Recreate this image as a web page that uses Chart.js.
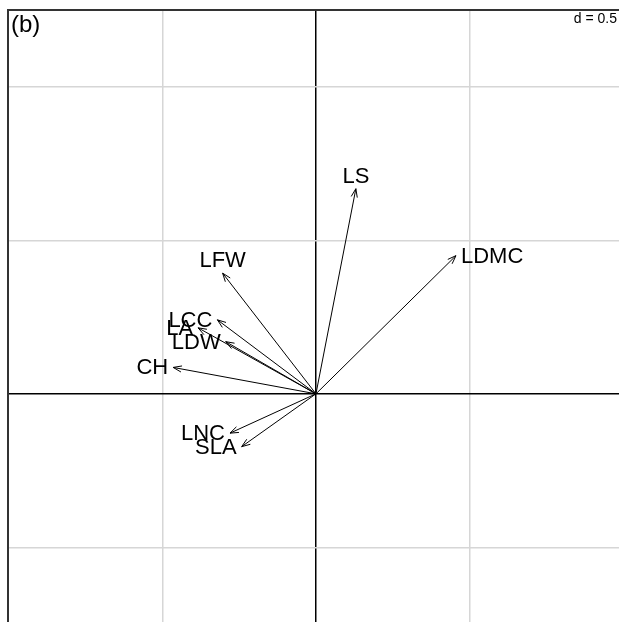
<!DOCTYPE html>
<html>
<head>
<meta charset="utf-8">
<script src="https://cdn.jsdelivr.net/npm/chart.js@4"></script>
<style>
  html, body { margin: 0; padding: 0; background: #fff; }
  #wrap { width: 619px; height: 622px; }
</style>
</head>
<body>
<div id="wrap"><canvas id="canvas-b" width="619" height="622"></canvas></div>
<script>
// variable loadings (arrow tips)
var traits = ['LS', 'LDMC', 'LFW', 'LCC', 'LA', 'LDW', 'CH', 'LNC', 'SLA'];
var axis1 = [0.130, 0.456, -0.304, -0.321, -0.384, -0.294, -0.465, -0.280, -0.242];
var axis2 = [0.668, 0.450, 0.393, 0.241, 0.215, 0.170, 0.086, -0.128, -0.172];

// grid lines (d = 0.5)
var xGrid = [-0.5, 0, 0.5];
var yGrid = [-0.5, 0, 0.5, 1];

var panelTitle = '(b)';
var gridLabel = 'd = 0.5';

var FONT = "'Liberation Sans', Arial, sans-serif";

var datasets = traits.map(function (name, i) {
  return {
    label: name,
    data: [{x: 0, y: 0}, {x: axis1[i], y: axis2[i]}],
    showLine: true,
    borderColor: '#000',
    borderWidth: 1,
    pointRadius: 0,
    fill: false
  };
});

// arrowheads, labels and corner texts
var arrowPlugin = {
  id: 'arrowPlugin',
  afterDatasetsDraw: function (chart) {
    var ctx = chart.ctx;
    var xs = chart.scales.x, ys = chart.scales.y;
    var x0 = xs.getPixelForValue(0), y0 = ys.getPixelForValue(0);
    ctx.save();
    ctx.strokeStyle = '#000';
    ctx.lineWidth = 1;
    ctx.fillStyle = '#000';
    ctx.font = '22px ' + FONT;
    ctx.textAlign = 'center';
    ctx.textBaseline = 'middle';
    traits.forEach(function (name, i) {
      var px = xs.getPixelForValue(axis1[i]);
      var py = ys.getPixelForValue(axis2[i]);
      var ang = Math.atan2(py - y0, px - x0);
      var len = 9, spread = Math.PI / 9;
      ctx.beginPath();
      ctx.moveTo(px - len * Math.cos(ang - spread), py - len * Math.sin(ang - spread));
      ctx.lineTo(px, py);
      ctx.lineTo(px - len * Math.cos(ang + spread), py - len * Math.sin(ang + spread));
      ctx.stroke();

      // label placed just beyond the tip, like ade4
      var w = ctx.measureText(name).width;
      var lx = px, ly = py;
      if (Math.abs(axis2[i]) > Math.abs(axis1[i])) {
        ly = py + (axis2[i] > 0 ? -13 : 13);
      } else {
        lx = px + (axis1[i] > 0 ? 1 : -1) * (w / 2 + 5);
      }
      ctx.fillText(name, lx, ly + 1);
    });

    ctx.textAlign = 'left';
    ctx.textBaseline = 'alphabetic';
    ctx.font = '24px ' + FONT;
    ctx.fillText(panelTitle, chart.chartArea.left + 3, chart.chartArea.top + 22);
    ctx.font = '14px ' + FONT;
    ctx.textAlign = 'right';
    ctx.fillText(gridLabel, chart.chartArea.right - 2, chart.chartArea.top + 13);
    ctx.restore();
  }
};

function gridColor(c) {
  return c.tick && c.tick.value === 0 ? '#000' : '#d6d6d6';
}

new Chart(document.getElementById('canvas-b'), {
  type: 'scatter',
  data: { datasets: datasets },
  options: {
    responsive: false,
    animation: false,
    layout: { padding: { left: 8, top: 10, right: 0, bottom: 0 } },
    plugins: { legend: { display: false }, tooltip: { enabled: false } },
    scales: {
      x: {
        type: 'linear',
        position: 'top',
        min: -1.003,
        max: 0.987,
        afterBuildTicks: function (s) { s.ticks = xGrid.map(function (v) { return {value: v}; }); },
        ticks: { display: false },
        grid: { color: gridColor, lineWidth: 1.5, drawTicks: false },
        border: { display: true, color: '#333', width: 2 }
      },
      y: {
        type: 'linear',
        position: 'left',
        min: -0.743,
        max: 1.25,
        afterBuildTicks: function (s) { s.ticks = yGrid.map(function (v) { return {value: v}; }); },
        ticks: { display: false },
        grid: { color: gridColor, lineWidth: 1.5, drawTicks: false },
        border: { display: true, color: '#333', width: 2 }
      }
    }
  },
  plugins: [arrowPlugin]
});
</script>
</body>
</html>
